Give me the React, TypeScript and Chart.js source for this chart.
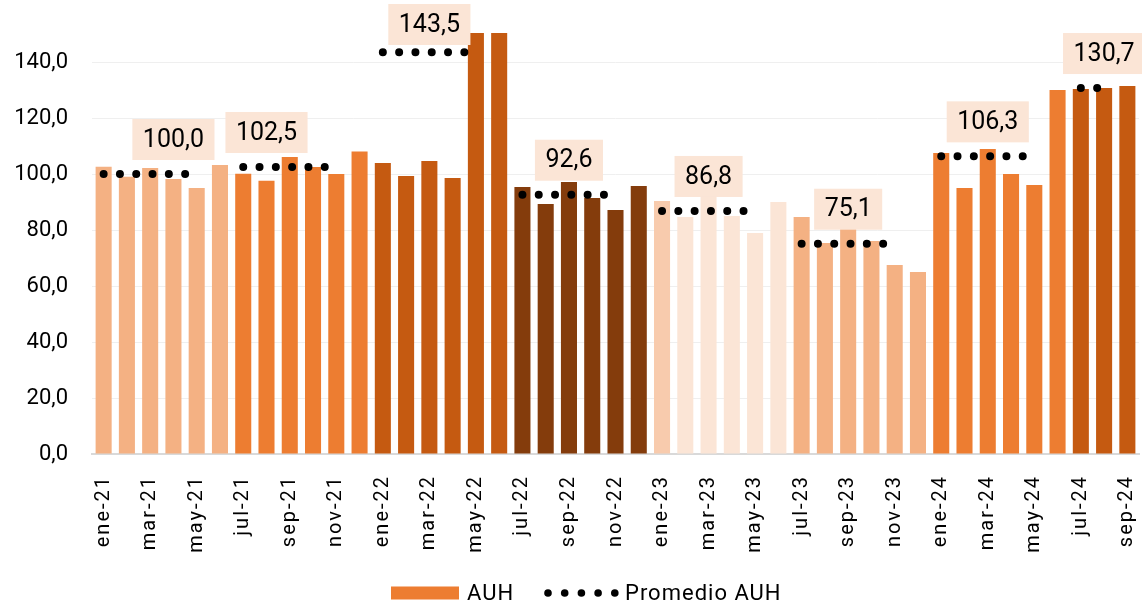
import React, { useEffect, useRef } from 'react';
import { Chart, registerables } from 'chart.js';

Chart.register(...registerables);

// ---------- DATA ----------
const categories: string[] = [
  'ene-21', 'feb-21', 'mar-21', 'abr-21', 'may-21', 'jun-21',
  'jul-21', 'ago-21', 'sep-21', 'oct-21', 'nov-21', 'dic-21',
  'ene-22', 'feb-22', 'mar-22', 'abr-22', 'may-22', 'jun-22',
  'jul-22', 'ago-22', 'sep-22', 'oct-22', 'nov-22', 'dic-22',
  'ene-23', 'feb-23', 'mar-23', 'abr-23', 'may-23', 'jun-23',
  'jul-23', 'ago-23', 'sep-23', 'oct-23', 'nov-23', 'dic-23',
  'ene-24', 'feb-24', 'mar-24', 'abr-24', 'may-24', 'jun-24',
  'jul-24', 'ago-24', 'sep-24',
];

const auh: number[] = [
  102.6, 99.0, 102.1, 98.2, 95.0, 103.2,
  100.1, 97.6, 106.1, 102.5, 100.0, 108.0,
  103.9, 99.3, 104.6, 98.6, 150.4, 150.4,
  95.4, 89.3, 97.1, 91.4, 87.1, 95.7,
  90.4, 84.6, 92.0, 85.0, 78.9, 90.0,
  84.6, 75.4, 82.0, 76.1, 67.5, 65.0,
  107.5, 95.0, 108.9, 100.0, 96.1, 130.0,
  130.4, 130.7, 131.4,
];

const semesterAverages: number[] = [100.0, 102.5, 143.5, 92.6, 86.8, 75.1, 106.3, 130.7];
const semesterLengths: number[] = [6, 6, 6, 6, 6, 6, 6, 3];

const yTicks: number[] = [0, 20, 40, 60, 80, 100, 120, 140];

// ---------- STYLE ----------
const semesterColors = ['#F4B183', '#ED7D31', '#C55A11', '#843C0C', '#FBE5D6', '#F4B183', '#ED7D31', '#C55A11'];
const colorOverrides: Record<string, string> = { 'ene-23': '#F8CBAD' };
const LABEL_OFFSET = [3, 1, 2, 2, 2, 2, 2, 1];
const FONT = 'Roboto';

const fmt = (v: number) => v.toFixed(1).replace('.', ',');

// build per-bar colours and the average line from the arrays above
const barColors: string[] = [];
const promedio: (number | null)[] = [];
semesterLengths.forEach((len, s) => {
  for (let j = 0; j < len; j++) {
    barColors.push(semesterColors[s]);
    promedio.push(j < len - 1 ? semesterAverages[s] : null);
  }
});
categories.forEach((c, i) => {
  if (colorOverrides[c]) barColors[i] = colorOverrides[c];
});

const avgLabelPlugin = {
  id: 'avgLabels',
  afterDatasetsDraw(chart: any) {
    const { ctx, scales } = chart;
    const x = scales.x;
    const y = scales.y;
    let start = 0;
    semesterAverages.forEach((avg, s) => {
      const idx = start + LABEL_OFFSET[s];
      const cx = x.getPixelForValue(idx);
      const ly = y.getPixelForValue(avg);
      const text = fmt(avg);
      ctx.save();
      ctx.font = `25px ${FONT}`;
      const w = ctx.measureText(text).width + 21;
      const h = 41;
      const top = Math.max(4, ly - 14 - h);
      ctx.fillStyle = '#FBE5D6';
      ctx.fillRect(cx - w / 2, top, w, h);
      ctx.fillStyle = '#000';
      ctx.textAlign = 'center';
      ctx.textBaseline = 'middle';
      ctx.fillText(text, cx, top + h / 2 + 1);
      ctx.restore();
      start += semesterLengths[s];
    });
  },
};

const letterSpacingPlugin = {
  id: 'xLetterSpacing',
  afterLayout(chart: any) {
    const sc = chart.scales.x;
    if (sc && !sc.__ls) {
      const orig = sc.drawLabels;
      sc.drawLabels = function (area: any) {
        const c = this.ctx;
        const prev = c.letterSpacing;
        c.letterSpacing = '2px';
        orig.call(this, area);
        c.letterSpacing = prev || '0px';
      };
      sc.__ls = true;
    }
  },
};

const legendPlugin = {
  id: 'customLegend',
  afterDraw(chart: any) {
    const { ctx } = chart;
    ctx.save();
    ctx.font = `22px ${FONT}`;
    ctx.letterSpacing = '1px';
    ctx.textBaseline = 'middle';
    ctx.textAlign = 'left';
    const yMid = 593;
    let xPos = 391;
    ctx.fillStyle = '#ED7D31';
    ctx.fillRect(xPos, yMid - 6.5, 68, 13);
    xPos += 68 + 8;
    ctx.fillStyle = '#000';
    ctx.fillText('AUH', xPos, yMid + 1);
    const dotStart = 548;
    for (let i = 0; i < 5; i++) {
      ctx.beginPath();
      ctx.arc(dotStart + i * 16.7, yMid, 3.8, 0, Math.PI * 2);
      ctx.fill();
    }
    ctx.fillText('Promedio AUH', 625, yMid + 1);
    ctx.restore();
  },
};

export default function App() {
  const canvasRef = useRef<HTMLCanvasElement | null>(null);

  useEffect(() => {
    if (!canvasRef.current) return;
    Chart.defaults.font.family = FONT;
    const chart = new Chart(canvasRef.current, {
      type: 'bar',
      data: {
        labels: categories,
        datasets: [
          {
            type: 'line',
            label: 'Promedio AUH',
            data: promedio,
            borderColor: '#000',
            borderWidth: 8,
            borderDash: [0, 16.3],
            borderCapStyle: 'round',
            pointRadius: 0,
            pointHoverRadius: 0,
            spanGaps: false,
            tension: 0,
            order: 0,
          } as any,
          {
            type: 'bar',
            label: 'AUH',
            data: auh,
            backgroundColor: barColors,
            borderWidth: 0,
            barPercentage: 0.69,
            categoryPercentage: 1,
            order: 1,
          },
        ],
      },
      options: {
        responsive: false,
        animation: false,
        layout: { padding: { top: 6, right: 3, left: 0, bottom: 0 } },
        plugins: {
          legend: { display: false },
          tooltip: { enabled: false },
        },
        scales: {
          x: {
            grid: { display: false },
            border: { display: true, color: '#D9D9D9', width: 2 },
            ticks: {
              autoSkip: false,
              minRotation: 90,
              maxRotation: 90,
              padding: 13,
              color: '#000',
              font: { size: 20, family: FONT },
              callback: (_v: any, i: number) => (i % 2 === 0 ? categories[i] : ''),
            },
            afterFit: (scale: any) => {
              scale.height = 151;
              scale.paddingLeft = 0;
              scale.paddingRight = 0;
            },
          },
          y: {
            min: 0,
            max: 160,
            border: { display: false },
            grid: { color: '#EFEFEF', lineWidth: 1, drawTicks: false },
            afterBuildTicks: (scale: any) => {
              scale.ticks = [...yTicks, 160].map((v) => ({ value: v }));
            },
            ticks: {
              padding: 24,
              color: '#000',
              font: { size: 22, family: FONT },
              callback: (v: any) => (yTicks.includes(Number(v)) ? fmt(Number(v)) : null),
            },
            afterFit: (scale: any) => {
              scale.width = 92;
              scale.paddingTop = 0;
              scale.paddingBottom = 0;
            },
          },
        },
      },
      plugins: [letterSpacingPlugin, avgLabelPlugin, legendPlugin],
    });
    return () => chart.destroy();
  }, []);

  return (
    <div style={{ position: 'absolute', left: 0, top: 0, width: 1142, height: 605, background: '#fff' }}>
      <canvas ref={canvasRef} width={1142} height={605} style={{ display: 'block' }} />
    </div>
  );
}
